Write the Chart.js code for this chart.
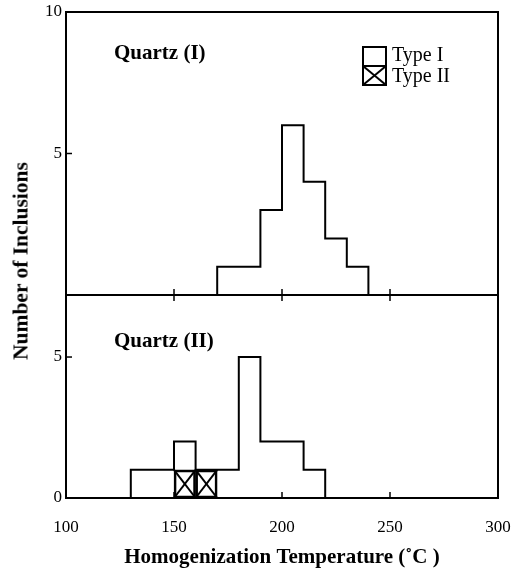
<!DOCTYPE html>
<html><head><meta charset="utf-8">
<script src="https://cdn.jsdelivr.net/npm/chart.js@4.4.0/dist/chart.umd.min.js"></script>
<style>
html,body{margin:0;padding:0;background:#fff;}
#wrap{position:relative;width:513px;height:571px;overflow:hidden;background:#fff;}
#topBox{position:absolute;left:0;top:0;width:513px;height:300px;}
#botBox{position:absolute;left:0;top:290px;width:513px;height:281px;}
#ytitle{position:absolute;left:21px;top:261px;transform:translate(-50%,-50%) rotate(-90deg);white-space:nowrap;font:bold 21.5px "Liberation Serif",serif;color:#000;}
</style></head>
<body>
<div id="wrap">
  <div id="topBox"><canvas id="cTop"></canvas></div>
  <div id="botBox"><canvas id="cBot"></canvas></div>
  <div id="ytitle">Number of Inclusions</div>
</div>
<script>
// ---- data ----
const binWidth = 10;
const topBins = [170, 180, 190, 200, 210, 220, 230];
const topCounts = [1, 1, 3, 6, 4, 2, 1];
const botBins = [130, 140, 150, 160, 170, 180, 190, 200, 210];
const botTypeI = [1, 1, 1, 0, 1, 5, 2, 2, 1];
const botTypeII = [0, 0, 1, 1, 0, 0, 0, 0, 0];
const xTicks = [100, 150, 200, 250, 300];
const topYTicks = [5, 10];
const botYTicks = [0, 5];
const panelLabels = ['Quartz (I)', 'Quartz (II)'];
const legendLabels = ['Type I', 'Type II'];
const xTitle = 'Homogenization Temperature (\u02DAC )';

const FONT = '"Liberation Serif", serif';

function outline(bins, counts) {
  const pts = [{x: bins[0], y: 0}];
  bins.forEach((b, i) => pts.push({x: b, y: counts[i]}));
  pts.push({x: bins[bins.length - 1] + binWidth, y: 0});
  return pts;
}
const botTotal = botTypeI.map((v, i) => v + botTypeII[i]);
const typeIIBars = [];
botBins.forEach((b, i) => { if (botTypeII[i] > 0) typeIIBars.push({x: b + binWidth / 2, y: botTypeII[i]}); });

function line(ctx, x1, y1, x2, y2) { ctx.beginPath(); ctx.moveTo(x1, y1); ctx.lineTo(x2, y2); ctx.stroke(); }
function noPad(s) { s.paddingTop = 0; s.paddingBottom = 0; s.paddingLeft = 0; s.paddingRight = 0; }

const framePlugin = {
  id: 'frameTicks',
  afterDatasetsDraw(chart, args, opts) {
    const {ctx, chartArea: a} = chart;
    const x = chart.scales.x, y = chart.scales.y;
    ctx.save();
    ctx.strokeStyle = '#000';
    ctx.lineWidth = 2;
    ctx.strokeRect(a.left, a.top, a.right - a.left, a.bottom - a.top);
    ctx.lineWidth = 1.5;
    xTicks.forEach(v => {
      const px = x.getPixelForValue(v);
      if (px <= a.left + 1 || px >= a.right - 1) return;
      if (opts.bottomTicks) line(ctx, px, a.bottom, px, a.bottom - 6);
      if (opts.topTicks) line(ctx, px, a.top, px, a.top + 6);
    });
    (opts.yTicks || []).forEach(v => {
      const py = y.getPixelForValue(v);
      line(ctx, a.left, py, a.left + 6, py);
    });
    // X marks in Type II boxes
    chart.data.datasets.forEach((ds, di) => {
      if (ds.type !== 'bar') return;
      chart.getDatasetMeta(di).data.forEach(el => {
        const l = el.x - el.width / 2, r = el.x + el.width / 2;
        ctx.lineWidth = 2;
        line(ctx, l, el.y, r, el.base);
        line(ctx, l, el.base, r, el.y);
      });
    });
    // panel label
    ctx.fillStyle = '#000';
    ctx.font = 'bold 21px ' + FONT;
    ctx.textBaseline = 'alphabetic';
    ctx.textAlign = 'left';
    ctx.fillText(opts.label, a.left + 48, a.top + opts.labelDy);
    if (opts.legend) {
      const bx = 363, by = 47, bw = 23, bh = 19;
      ctx.lineWidth = 2;
      ctx.strokeRect(bx, by, bw, bh);
      ctx.strokeRect(bx, by + bh, bw, bh);
      line(ctx, bx, by + bh, bx + bw, by + 2 * bh);
      line(ctx, bx, by + 2 * bh, bx + bw, by + bh);
      ctx.font = '20px ' + FONT;
      ctx.fillText(legendLabels[0], 392, 61);
      ctx.fillText(legendLabels[1], 392, 82);
    }
    ctx.restore();
  }
};

const tickFont = {family: FONT, size: 17};

new Chart(document.getElementById('cTop'), {
  type: 'line',
  data: {datasets: [{
    data: outline(topBins, topCounts), stepped: true, borderColor: '#000', borderWidth: 2,
    pointRadius: 0, fill: false
  }]},
  options: {
    responsive: true, maintainAspectRatio: false, animation: false,
    layout: {padding: {top: 12, right: 15, bottom: 5, left: 0}},
    plugins: {legend: {display: false}, tooltip: {enabled: false},
      frameTicks: {bottomTicks: true, topTicks: false, yTicks: [5], label: panelLabels[0], labelDy: 47, legend: true}},
    scales: {
      x: {type: 'linear', display: false, min: 100, max: 300, offset: false},
      y: {type: 'linear', min: 0, max: 10,
        afterFit: s => { s.width = 66; noPad(s); },
        grid: {display: false, drawTicks: false}, border: {display: false},
        afterBuildTicks: s => { s.ticks = topYTicks.map(v => ({value: v})); },
        ticks: {font: tickFont, color: '#000', padding: 4}
      }
    }
  },
  plugins: [framePlugin]
});

new Chart(document.getElementById('cBot'), {
  type: 'line',
  data: {datasets: [
    {type: 'line', data: outline(botBins, botTotal), stepped: true, borderColor: '#000', borderWidth: 2, pointRadius: 0, fill: false},
    {type: 'bar', data: typeIIBars, backgroundColor: 'rgba(0,0,0,0)', borderColor: '#000', borderWidth: 2,
      borderSkipped: false, barPercentage: 1, categoryPercentage: 1}
  ]},
  options: {
    responsive: true, maintainAspectRatio: false, animation: false,
    layout: {padding: {top: 5, right: 15, bottom: 0, left: 0}},
    plugins: {legend: {display: false}, tooltip: {enabled: false},
      frameTicks: {bottomTicks: true, topTicks: true, yTicks: [5], label: panelLabels[1], labelDy: 52, legend: false}},
    scales: {
      x: {type: 'linear', min: 100, max: 300, offset: false,
        afterFit: s => { s.height = 73; noPad(s); },
        afterBuildTicks: s => { s.ticks = xTicks.map(v => ({value: v})); },
        grid: {display: false, drawTicks: false, offset: false}, border: {display: false},
        ticks: {font: tickFont, color: '#000', padding: 19, maxRotation: 0},
        title: {display: true, text: xTitle, color: '#000', font: {family: FONT, size: 21, weight: 'bold'}, padding: {top: 0, bottom: 1}}
      },
      y: {type: 'linear', min: 0, max: 7.2,
        afterFit: s => { s.width = 66; noPad(s); },
        afterBuildTicks: s => { s.ticks = botYTicks.map(v => ({value: v})); },
        grid: {display: false, drawTicks: false}, border: {display: false},
        ticks: {font: tickFont, color: '#000', padding: 4}
      }
    }
  },
  plugins: [framePlugin]
});
</script>
</body></html>
